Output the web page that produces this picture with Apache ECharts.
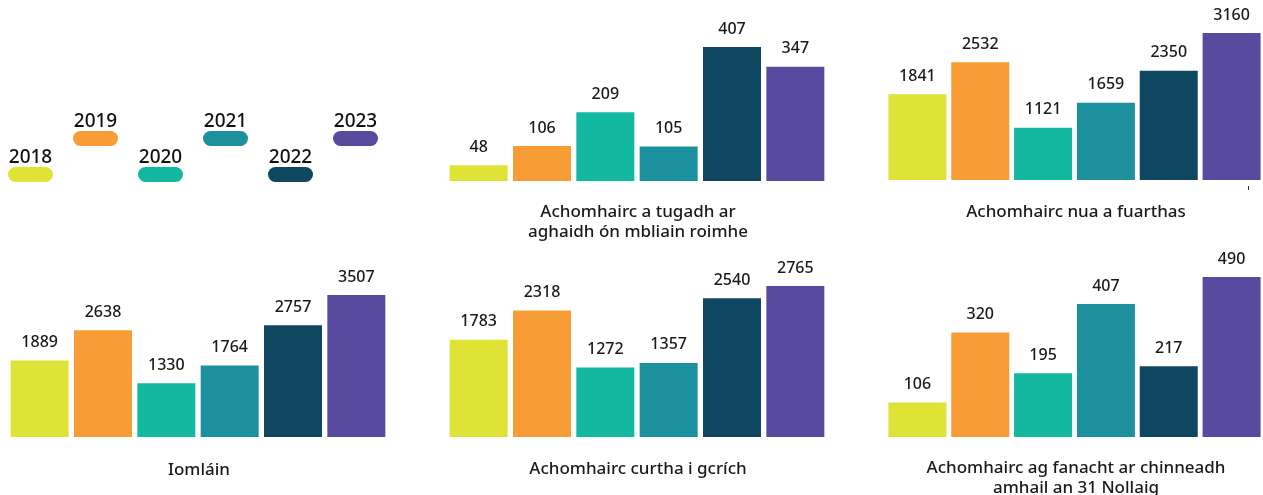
<!DOCTYPE html>
<html>
<head>
<meta charset="utf-8">
<script src="https://cdn.jsdelivr.net/npm/echarts@6/dist/echarts.min.js"></script>
<style>
  html, body { margin: 0; padding: 0; background: #fff; }
  #chart { width: 1263px; height: 495px; }
</style>
</head>
<body>
<div id="chart"></div>
<script>
// blianta agus dathanna
var years = ['2018', '2019', '2020', '2021', '2022', '2023']
var colors = ['#dfe336', '#f89c36', '#12b9a0', '#1c919d', '#0f4761', '#584b9f']

// luachanna gach painéil
var carriedOver = [48, 106, 209, 105, 407, 347]
var received = [1841, 2532, 1121, 1659, 2350, 3160]
var total = [1889, 2638, 1330, 1764, 2757, 3507]
var completed = [1783, 2318, 1272, 1357, 2540, 2765]
var pending = [106, 320, 195, 407, 217, 490]

var titles = [
  'Achomhairc a tugadh ar\naghaidh ón mbliain roimhe',
  'Achomhairc nua a fuarthas',
  'Iomláin',
  'Achomhairc curtha i gcrích',
  'Achomhairc ag fanacht ar chinneadh\namhail an 31 Nollaig'
]

var panels = [
  { data: carriedOver, left: 447, top: 47, baseline: 181, tx: 638, ty: 202 },
  { data: received, left: 886, top: 33, baseline: 180, tx: 1076, ty: 202 },
  { data: total, left: 8, top: 295, baseline: 437, tx: 199, ty: 460 },
  { data: completed, left: 447, top: 286, baseline: 437, tx: 638, ty: 459 },
  { data: pending, left: 886, top: 277, baseline: 437, tx: 1076, ty: 458 }
]

var font = '"Noto Sans", sans-serif'
var chart = echarts.init(document.getElementById('chart'))

var grids = [], xAxes = [], yAxes = [], series = [], titleList = []
panels.forEach(function (p, i) {
  grids.push({ left: p.left, width: 380, top: p.top, height: p.baseline - p.top })
  xAxes.push({ type: 'category', gridIndex: i, data: years, show: false })
  yAxes.push({ type: 'value', gridIndex: i, min: 0, max: 'dataMax', show: false })
  series.push({
    type: 'bar',
    xAxisIndex: i,
    yAxisIndex: i,
    barWidth: 58,
    data: p.data.map(function (v, j) {
      return { value: v, itemStyle: { color: colors[j] } }
    }),
    label: {
      show: true,
      position: 'top',
      distance: 10,
      color: '#1a1a1a',
      fontFamily: font,
      fontSize: 16,
      fontWeight: 500
    }
  })
  titleList.push({
    text: titles[i],
    left: p.tx,
    top: p.ty,
    padding: 0,
    textAlign: 'center',
    textStyle: { fontFamily: font, fontSize: 17, fontWeight: 500, color: '#1a1a1a', lineHeight: 20 }
  })
})

// an eochair: piollairí le bliain os a gcionn
var legendGraphics = []
years.forEach(function (y, i) {
  var x = 8 + i * 65
  var py = i % 2 === 0 ? 167 : 131
  legendGraphics.push({
    type: 'rect',
    shape: { x: x, y: py, width: 45, height: 15, r: 7.5 },
    style: { fill: colors[i] }
  })
  legendGraphics.push({
    type: 'text',
    x: x + 22.5,
    y: py - 9,
    style: {
      text: y,
      fill: '#111',
      font: '500 19px "Noto Sans", sans-serif',
      textAlign: 'center',
      textVerticalAlign: 'middle'
    }
  })
})
// marc beag faoin bpainéal uachtair ar dheis
legendGraphics.push({
  type: 'line',
  shape: { x1: 1248.5, y1: 186, x2: 1248.5, y2: 190 },
  style: { stroke: '#333', lineWidth: 1 }
})

chart.setOption({
  animation: false,
  title: titleList,
  grid: grids,
  xAxis: xAxes,
  yAxis: yAxes,
  series: series,
  graphic: legendGraphics
})
</script>
</body>
</html>
